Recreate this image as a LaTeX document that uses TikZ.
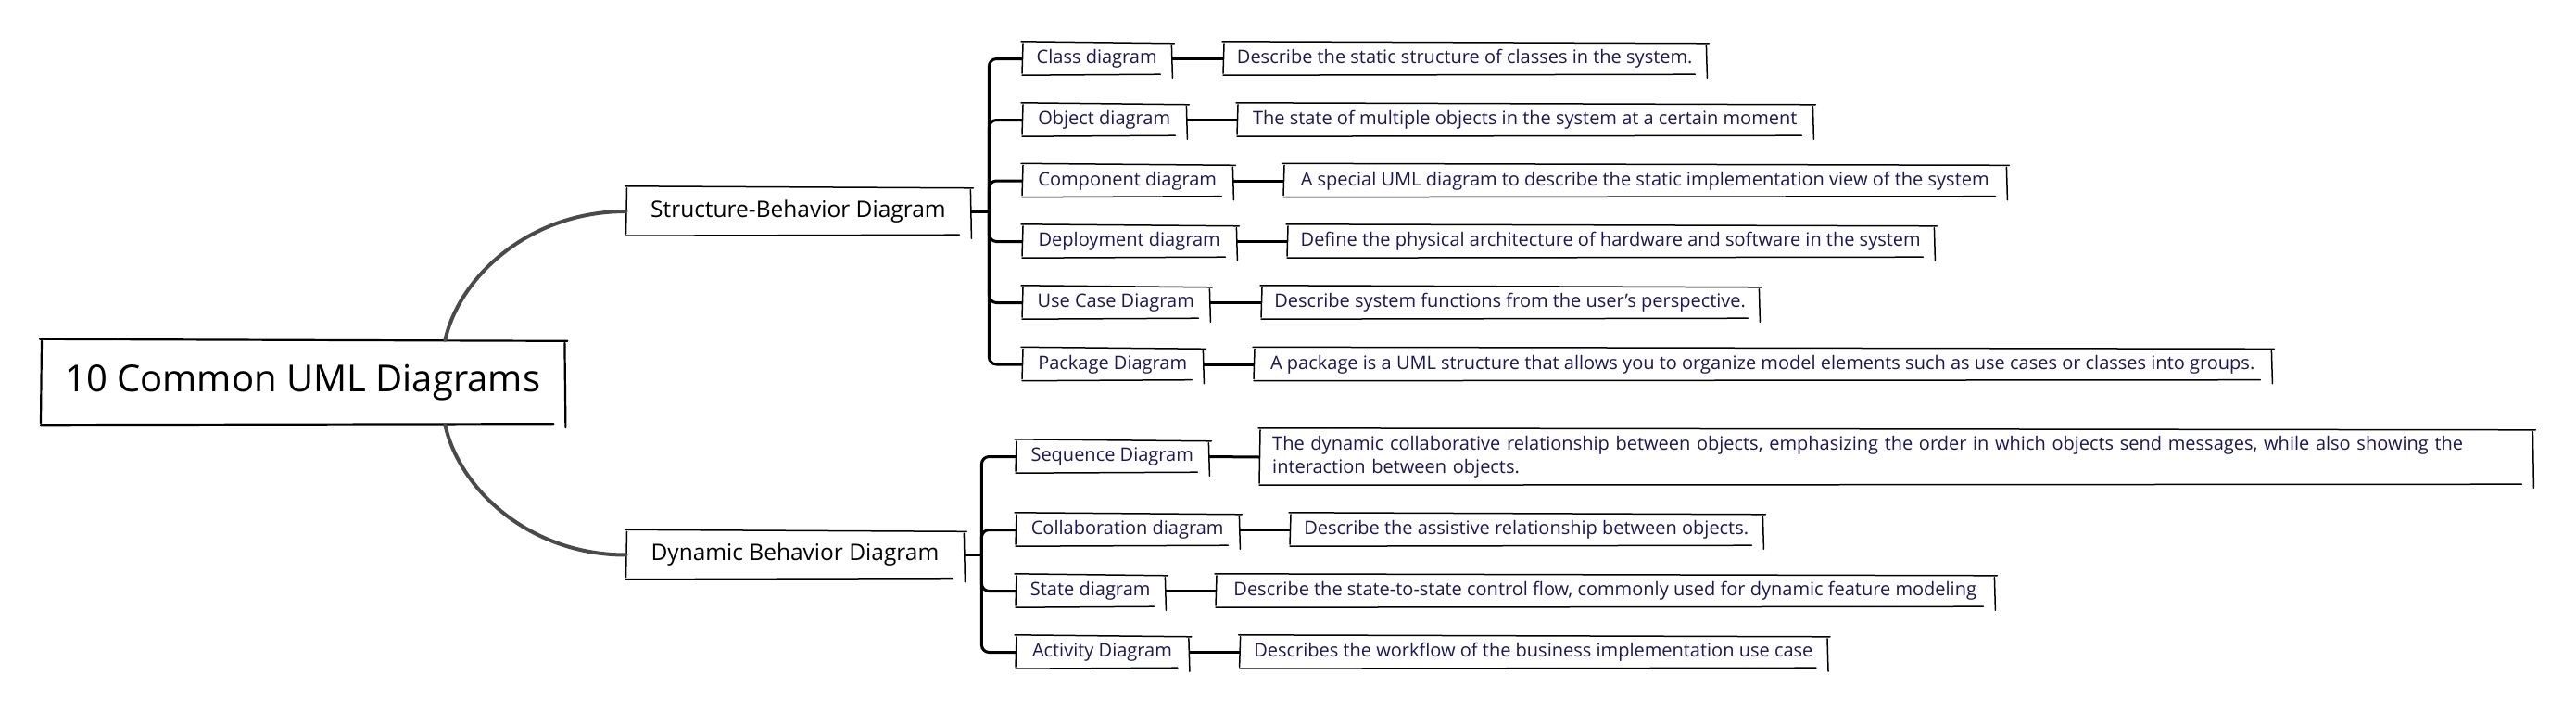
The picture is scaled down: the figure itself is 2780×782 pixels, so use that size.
\documentclass[tikz,border=0pt]{standalone}
\usepackage{fontspec}
\setmainfont{Open Sans}
\usetikzlibrary{calc}
\definecolor{navy}{RGB}{28,24,86}
\definecolor{curvegray}{RGB}{74,74,74}
\tikzset{
  rootbox/.style={inner sep=0pt, anchor=west, minimum height=91pt, font=\fontsize{40}{48}\selectfont, text=black},
  lvlbox/.style={inner sep=0pt, anchor=west, minimum height=52pt, font=\fontsize{24.5}{30}\selectfont, text=black},
  leafbox/.style={inner sep=0pt, anchor=west, minimum height=35pt, font=\fontsize{20}{25}\selectfont, text=navy},
  skl/.style={line width=1.5pt, black, line cap=round},
  skthick/.style={line width=2.2pt, black, line cap=round},
  bus/.style={line width=3pt, black, rounded corners=8pt},
  mainlink/.style={line width=4pt, curvegray, line cap=round},
}
\newcommand\skbox[2][skl]{%
  \draw[#1] ([shift={(-1pt,1pt)}]#2.north west) -- ([shift={(3pt,-1pt)}]#2.north east);
  \draw[#1] ([shift={(0pt,-3pt)}]#2.north east) -- ([shift={(1pt,-3pt)}]#2.south east);
  \draw[#1] ([shift={(-12pt,1pt)}]#2.south east) -- ([shift={(0pt,0pt)}]#2.south west);
  \draw[#1] ([shift={(0pt,2pt)}]#2.south west) -- ([shift={(1pt,-1pt)}]#2.north west);
}
\begin{document}
\begin{tikzpicture}[x=1pt,y=-1pt]
\fill[white] (0,0) rectangle (2780,782);
\useasboundingbox (0,0) rectangle (2780,782);

% root and level-1
\node[rootbox, minimum width=565pt] (root) at (44,412.5) {10 Common UML Diagrams};
\node[lvlbox, minimum width=371.5pt] (sb) at (675.5,228) {Structure-Behavior Diagram};
\node[lvlbox, minimum width=364.5pt] (db) at (675.5,598.5) {Dynamic Behavior Diagram};

% structure children
\node[leafbox, minimum width=161pt] (cls) at (1103,63.5) {Class diagram};
\node[leafbox, minimum width=177pt] (obj) at (1103,129.5) {Object diagram};
\node[leafbox, minimum width=227pt] (cmp) at (1103,195) {Component diagram};
\node[leafbox, minimum width=231pt] (dep) at (1103,260.5) {Deployment diagram};
\node[leafbox, minimum width=202pt] (use) at (1103,326.5) {Use Case Diagram};
\node[leafbox, minimum width=195pt] (pkg) at (1103,393) {Package Diagram};

\node[leafbox, minimum width=521pt] (dcls) at (1320,63.5) {Describe the static structure of classes in the system.};
\node[leafbox, minimum width=621pt] (dobj) at (1335,129.5) {The state of multiple objects in the system at a certain moment};
\node[leafbox, minimum width=780pt] (dcmp) at (1385,195) {A special UML diagram to describe the static implementation view of the system};
\node[leafbox, minimum width=698pt] (ddep) at (1389,260.5) {Define the physical architecture of hardware and software in the system};
\node[leafbox, minimum width=537pt] (duse) at (1361,326.5) {Describe system functions from the user's perspective.};
\node[leafbox, minimum width=1098pt] (dpkg) at (1353,393) {A package is a UML structure that allows you to organize model elements such as use cases or classes into groups.};

% dynamic children
\node[leafbox, minimum width=208pt] (seq) at (1096,492.5) {Sequence Diagram};
\node[leafbox, minimum width=241pt] (col) at (1096,571.5) {Collaboration diagram};
\node[leafbox, minimum width=161pt] (sta) at (1096,637.5) {State diagram};
\node[leafbox, minimum width=186.5pt] (act) at (1096,703.5) {Activity Diagram};

\node[leafbox, minimum height=60pt, inner xsep=14pt, text width=1346pt, align=left] (dseq) at (1359,493) {The dynamic collaborative relationship between objects, emphasizing the order in which objects send messages, while also showing the\\interaction between objects.};
\node[leafbox, minimum width=510pt] (dcol) at (1392,571.5) {Describe the assistive relationship between objects.};
\node[leafbox, minimum width=840pt] (dsta) at (1312,637.5) {Describe the state-to-state control flow, commonly used for dynamic feature modeling};
\node[leafbox, minimum width=634pt] (dact) at (1337.6,703.5) {Describes the workflow of the business implementation use case};

% sketchy borders
\skbox[skthick]{root}
\foreach \n in {sb,db,cls,obj,cmp,dep,use,pkg,dcls,dobj,dcmp,ddep,duse,dpkg,seq,col,sta,act,dseq,dcol,dsta,dact}{\skbox{\n}}

% main curves
\draw[mainlink] ([xshift=-129pt]root.north east) .. controls (495,300) and (570,228) .. (sb.west);
\draw[mainlink] ([xshift=-129pt]root.south east) .. controls (495,526) and (570,598.5) .. (db.west);

% structure bus
\coordinate (sj) at ([xshift=20pt]sb.east);
\draw[bus] (sb.east) -- (sj);
\foreach \c in {cls,obj,cmp,dep,use,pkg}{\draw[bus] (sj) |- (\c.west);}
\draw[bus] (cls.east) -- (dcls.west);
\draw[bus] (obj.east) -- (dobj.west);
\draw[bus] (cmp.east) -- (dcmp.west);
\draw[bus] (dep.east) -- (ddep.west);
\draw[bus] (use.east) -- (duse.west);
\draw[bus] (pkg.east) -- (dpkg.west);

% dynamic bus
\coordinate (dj) at ([xshift=19pt]db.east);
\draw[bus] (db.east) -- (dj);
\foreach \c in {seq,col,sta,act}{\draw[bus] (dj) |- (\c.west);}
\draw[bus] (seq.east) -- (dseq.west);
\draw[bus] (col.east) -- (dcol.west);
\draw[bus] (sta.east) -- (dsta.west);
\draw[bus] (act.east) -- (dact.west);
\end{tikzpicture}
\end{document}
